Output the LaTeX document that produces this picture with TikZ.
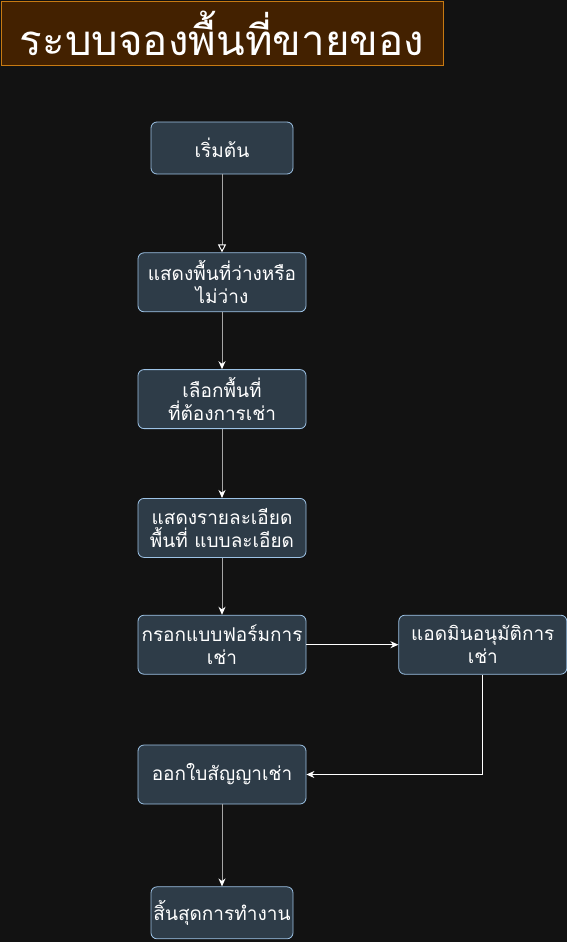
\documentclass[tikz,border=0pt]{standalone}
\usepackage{fontspec}
\newfontfamily\thaifont[Script=Thai]{Loma}
\definecolor{pagebg}{HTML}{121212}
\definecolor{ttlfill}{HTML}{432100}
\definecolor{ttlline}{HTML}{C77A12}
\definecolor{boxfill}{HTML}{2E3C48}
\definecolor{boxline}{HTML}{9DC3E6}
\definecolor{linkgray}{HTML}{A6A6A6}
\usetikzlibrary{positioning,arrows.meta}

\begin{document}
\begin{tikzpicture}[x=1pt,y=-1pt,
      stepbox/.style={rectangle,rounded corners=6pt,draw=boxline,fill=boxfill,line width=0.8pt,
                      minimum width=168pt,minimum height=59pt,inner sep=2pt,align=center,
                      text=white,font=\thaifont\fontsize{19}{23}\selectfont},
      termbox/.style={stepbox,minimum width=142pt,minimum height=52pt},
      ttl/.style={rectangle,draw=ttlline,fill=ttlfill,line width=0.8pt,minimum width=442pt,
                  minimum height=64pt,text=white,font=\thaifont\fontsize{42}{46}\selectfont},
      flow/.style={draw=linkgray,line width=1pt,-{Stealth[length=8pt,width=7pt,color=white]}},
      flowfirst/.style={draw=linkgray,line width=1pt,-{Triangle[open,length=8pt,width=8pt,color=white,fill=pagebg]}},
      flowside/.style={draw=white,line width=1pt,-{Stealth[length=8pt,width=7pt,color=white]}}]
    \fill[pagebg] (0,0) rectangle (567,942);
    \useasboundingbox (0,0) rectangle (567,942);
    \node[ttl] (title) at (222,33) {ระบบจองพื้นที่ขายของ};
    \node[termbox] (start) at (222,148) {เริ่มต้น};
    \node[stepbox,below=78pt of start] (show) {แสดงพื้นที่ว่างหรือ\\ไม่ว่าง};
    \node[stepbox,below=57pt of show] (pick) {เลือกพื้นที่\\ที่ต้องการเช่า};
    \node[stepbox,below=69pt of pick] (detail) {แสดงรายละเอียด\\พื้นที่ แบบละเอียด};
    \node[stepbox,below=57pt of detail] (form) {กรอกแบบฟอร์มการ\\เช่า};
    \node[stepbox,right=92pt of form] (admin) {แอดมินอนุมัติการ\\เช่า};
    \node[stepbox,below=70pt of form] (lease) {ออกใบสัญญาเช่า};
    \node[termbox,below=82pt of lease] (finish) {สิ้นสุดการทำงาน};
    \draw[flowfirst] (start) -- (show);
    \draw[flow] (show) -- (pick);
    \draw[flow] (pick) -- (detail);
    \draw[flow] (detail) -- (form);
    \draw[flowside] (form) -- (admin);
    \draw[flowside] (admin.south) |- (lease);
    \draw[flow] (lease) -- (finish);
  \end{tikzpicture}
\end{document}
